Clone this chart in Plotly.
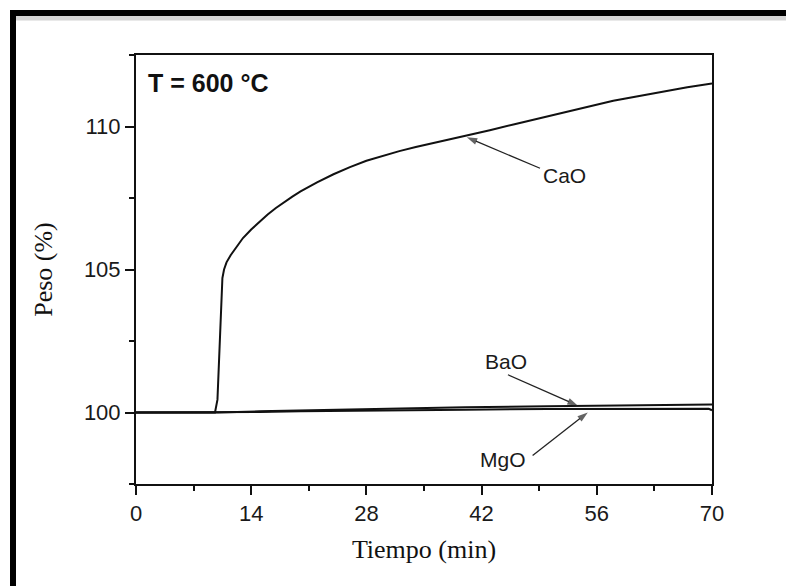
import plotly.graph_objects as go

# ---- data ----
cao_t = [0, 5, 9.6, 9.9, 10.2, 10.5, 10.7, 11.0, 11.5, 12.2, 13.0, 14.0, 15.0, 16, 17, 18, 19, 20, 22, 24, 26, 28, 30,
         32, 34, 36, 38, 40, 43, 46, 49, 52, 55, 58, 61, 64, 67, 70]
cao_w = [100, 100, 100.0, 100.45, 102.6, 104.7, 105.0, 105.25, 105.5, 105.8, 106.1, 106.4, 106.67, 106.92, 107.15, 107.36, 107.55, 107.73, 108.05, 108.33, 108.58, 108.8, 108.98,
         109.14, 109.28, 109.41, 109.54, 109.66, 109.87, 110.08, 110.29, 110.5, 110.7, 110.9, 111.06, 111.22, 111.37, 111.5]

bao_t = [0, 10, 15, 20, 30, 40, 50, 60, 70]
bao_w = [100, 100.0, 100.04, 100.07, 100.13, 100.18, 100.22, 100.26, 100.28]

mgo_t = [0, 10, 15, 20, 30, 40, 50, 60, 69.6, 70]
mgo_w = [100, 100.0, 100.02, 100.04, 100.08, 100.1, 100.12, 100.13, 100.13, 100.08]

x_ticks = [0, 14, 28, 42, 56, 70]
y_ticks = [100, 105, 110]

# labels: name, label position, arrow tail, arrow tip
label_names = ["CaO", "BaO", "MgO"]
label_pos = [(52.1, 108.29), (45.0, 101.78), (44.6, 98.36)]
arrow_tail = [(49.1, 108.54), (45.2, 101.32), (48.2, 98.50)]
arrow_tip = [(40.2, 109.62), (53.7, 100.24), (54.9, 100.0)]

fig = go.Figure()
line = dict(color="#111111", width=2)
fig.add_trace(go.Scatter(x=mgo_t, y=mgo_w, mode="lines", line=line, name="MgO"))
fig.add_trace(go.Scatter(x=bao_t, y=bao_w, mode="lines", line=line, name="BaO"))
fig.add_trace(go.Scatter(x=cao_t, y=cao_w, mode="lines", line=line, name="CaO"))

for tail, tip in zip(arrow_tail, arrow_tip):
    fig.add_trace(go.Scatter(
        x=[tail[0], tip[0]], y=[tail[1], tip[1]], mode="lines+markers",
        line=dict(color="#222222", width=1.3),
        marker=dict(symbol="arrow", size=[0, 11], angleref="previous", color="#222222",
                    line=dict(width=0)),
        hoverinfo="skip"))

W, H = 786, 586
L, R, T, B = 136, 74, 55, 102
pw, ph = W - L - R, H - T - B

def px(xp):
    return (xp - L) / pw

def py(yp):
    return 1 - (yp - T) / ph

shapes = [
    # thick black frame on left and top of the picture
    dict(type="rect", xref="paper", yref="paper", x0=px(10), x1=px(16), y0=py(H + 5), y1=py(10),
         fillcolor="black", line=dict(width=0), layer="above"),
    dict(type="rect", xref="paper", yref="paper", x0=px(10), x1=px(W + 5), y0=py(16), y1=py(10),
         fillcolor="black", line=dict(width=0), layer="above"),
    dict(type="rect", xref="paper", yref="paper", x0=px(16), x1=px(W + 5), y0=py(20.5), y1=py(16),
         fillcolor="#d4d4d4", line=dict(width=0), layer="above"),
]

ann_font = dict(family="Liberation Sans, Arial", size=21, color="#1a1a1a")
annotations = [
    dict(x=0.017, y=0.935, xref="paper", yref="paper", xanchor="left", yanchor="middle",
         text="<b>T = 600 °C</b>", showarrow=False,
         font=dict(family="Liberation Sans, Arial", size=25, color="#111111")),
]
for name, (lx, ly) in zip(label_names, label_pos):
    annotations.append(dict(x=lx, y=ly, text=name, showarrow=False, font=ann_font))

axis_common = dict(
    showline=True, linecolor="#111111", linewidth=2, mirror=True,
    ticks="outside", ticklen=9, tickwidth=2, tickcolor="#111111",
    showgrid=False, zeroline=False,
    tickfont=dict(family="Liberation Sans, Arial", size=22, color="#1a1a1a"),
)

fig.update_layout(
    width=W, height=H,
    margin=dict(l=L, r=R, t=T, b=B),
    paper_bgcolor="white", plot_bgcolor="white",
    showlegend=False,
    shapes=shapes,
    annotations=annotations,
    xaxis=dict(range=[0, 70], tickvals=x_ticks,
               minor=dict(dtick=7, ticks="outside", ticklen=5, tickwidth=2, tickcolor="#111111", showgrid=False),
               title=dict(text="Tiempo (min)", standoff=14,
                          font=dict(family="Liberation Serif, Times New Roman", size=26, color="#111111")),
               **axis_common),
    yaxis=dict(range=[97.5, 112.5], tickvals=y_ticks,
               minor=dict(dtick=2.5, tick0=97.5, ticks="outside", ticklen=5, tickwidth=2, tickcolor="#111111", showgrid=False),
               title=dict(text="Peso (%)", standoff=24,
                          font=dict(family="Liberation Serif, Times New Roman", size=26, color="#111111")),
               **axis_common),
)

fig.write_html("out.html")
